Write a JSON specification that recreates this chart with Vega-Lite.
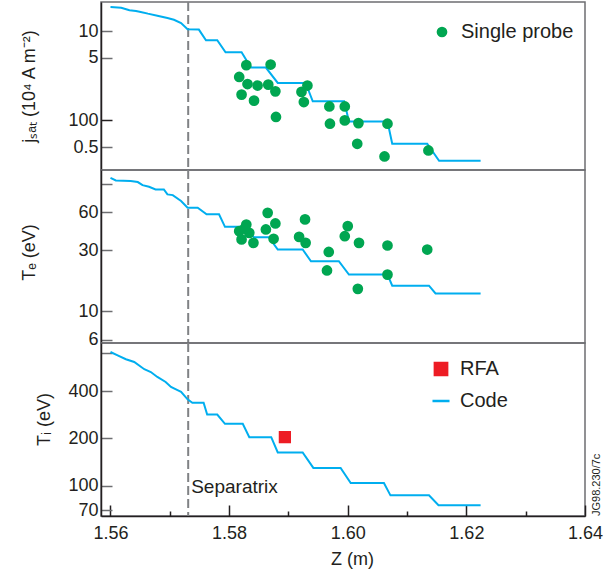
{
  "$schema": "https://vega.github.io/schema/vega-lite/v6.json",
  "padding": {"left": 19, "top": 0, "right": 5, "bottom": 5},
  "bounds": "flush",
  "spacing": 0,
  "background": "white",
  "config": {
    "font": "Liberation Sans",
    "view": {"stroke": "#6d6e71", "strokeWidth": 1.5},
    "axis": {"grid": false, "domainColor": "#231f20", "domainWidth": 1.5, "tickColor": "#6d6e71", "tickWidth": 1.5, "labelColor": "#231f20", "titleColor": "#231f20", "labelFont": "Liberation Sans", "titleFont": "Liberation Sans", "labelFontSize": 18, "titleFontSize": 18, "titleFontWeight": "normal", "labelOverlap": false, "labelFlush": false},
    "legend": {"labelFont": "Liberation Sans", "labelFontSize": 20, "labelColor": "#231f20", "padding": 0, "title": null}
  },
  "resolve": {"scale": {"color": "independent", "y": "independent"}, "legend": {"color": "independent"}},
  "datasets": {
    "sep": [{"z": 1.5731}],
    "jsat_code": [
      {"z": 1.5600, "v": 18.6}, {"z": 1.5618, "v": 18.3}, {"z": 1.5632, "v": 17.1}, {"z": 1.5643, "v": 16.8},
      {"z": 1.5651, "v": 16.4}, {"z": 1.5663, "v": 15.7}, {"z": 1.5679, "v": 14.9}, {"z": 1.5696, "v": 14.0},
      {"z": 1.5707, "v": 13.4}, {"z": 1.5719, "v": 12.3}, {"z": 1.5730, "v": 10.5}, {"z": 1.5749, "v": 10.4},
      {"z": 1.5761, "v": 7.9}, {"z": 1.5780, "v": 7.9}, {"z": 1.5794, "v": 5.8}, {"z": 1.5821, "v": 5.8},
      {"z": 1.5831, "v": 4.5}, {"z": 1.5837, "v": 3.9}, {"z": 1.5862, "v": 3.9}, {"z": 1.5882, "v": 2.62},
      {"z": 1.5929, "v": 2.62}, {"z": 1.5941, "v": 1.63}, {"z": 1.5994, "v": 1.63}, {"z": 1.6002, "v": 0.97},
      {"z": 1.6067, "v": 0.97}, {"z": 1.6075, "v": 0.545}, {"z": 1.6134, "v": 0.545}, {"z": 1.6154, "v": 0.351},
      {"z": 1.6224, "v": 0.351}
    ],
    "jsat_probe": [
      {"z": 1.5829, "v": 4.15, "s": "Single probe"}, {"z": 1.5870, "v": 4.22, "s": "Single probe"},
      {"z": 1.5817, "v": 3.06, "s": "Single probe"}, {"z": 1.5831, "v": 2.55, "s": "Single probe"},
      {"z": 1.5848, "v": 2.45, "s": "Single probe"}, {"z": 1.5866, "v": 2.51, "s": "Single probe"},
      {"z": 1.5878, "v": 2.11, "s": "Single probe"}, {"z": 1.5821, "v": 1.94, "s": "Single probe"},
      {"z": 1.5842, "v": 1.66, "s": "Single probe"}, {"z": 1.5879, "v": 1.09, "s": "Single probe"},
      {"z": 1.5932, "v": 2.45, "s": "Single probe"}, {"z": 1.5922, "v": 2.08, "s": "Single probe"},
      {"z": 1.5926, "v": 1.60, "s": "Single probe"}, {"z": 1.5969, "v": 1.43, "s": "Single probe"},
      {"z": 1.5995, "v": 1.43, "s": "Single probe"}, {"z": 1.5970, "v": 0.916, "s": "Single probe"},
      {"z": 1.5995, "v": 0.997, "s": "Single probe"}, {"z": 1.6018, "v": 0.930, "s": "Single probe"},
      {"z": 1.6067, "v": 0.916, "s": "Single probe"}, {"z": 1.6016, "v": 0.545, "s": "Single probe"},
      {"z": 1.6062, "v": 0.393, "s": "Single probe"}, {"z": 1.6136, "v": 0.459, "s": "Single probe"}
    ],
    "te_code": [
      {"z": 1.5600, "v": 111}, {"z": 1.5609, "v": 106}, {"z": 1.5634, "v": 105}, {"z": 1.5646, "v": 103},
      {"z": 1.5654, "v": 97.4}, {"z": 1.5665, "v": 94.6}, {"z": 1.5676, "v": 90.2}, {"z": 1.5690, "v": 90.2},
      {"z": 1.5696, "v": 82.4}, {"z": 1.5705, "v": 81.4}, {"z": 1.5719, "v": 73.1}, {"z": 1.5730, "v": 64.8},
      {"z": 1.5747, "v": 64.8}, {"z": 1.5762, "v": 57.5}, {"z": 1.5783, "v": 57.5}, {"z": 1.5793, "v": 45.9},
      {"z": 1.5823, "v": 45.9}, {"z": 1.5831, "v": 42.5}, {"z": 1.5842, "v": 38.1}, {"z": 1.5867, "v": 38.1},
      {"z": 1.5882, "v": 30.5}, {"z": 1.5924, "v": 30.5}, {"z": 1.5938, "v": 24.7}, {"z": 1.5985, "v": 24.7},
      {"z": 1.6002, "v": 19.4}, {"z": 1.6067, "v": 19.4}, {"z": 1.6075, "v": 15.9}, {"z": 1.6137, "v": 15.9},
      {"z": 1.6148, "v": 13.8}, {"z": 1.6224, "v": 13.8}
    ],
    "te_probe": [
      {"z": 1.5829, "v": 47.9}, {"z": 1.5817, "v": 42.5}, {"z": 1.5834, "v": 41.2}, {"z": 1.5821, "v": 36.6},
      {"z": 1.5841, "v": 34.4}, {"z": 1.5865, "v": 59.1}, {"z": 1.5878, "v": 48.8}, {"z": 1.5862, "v": 43.8},
      {"z": 1.5875, "v": 37.0}, {"z": 1.5928, "v": 52.5}, {"z": 1.5918, "v": 38.3}, {"z": 1.5929, "v": 34.4},
      {"z": 1.6000, "v": 46.5}, {"z": 1.5995, "v": 38.8}, {"z": 1.6019, "v": 34.4}, {"z": 1.5968, "v": 29.2},
      {"z": 1.5965, "v": 20.9}, {"z": 1.6017, "v": 15.0}, {"z": 1.6067, "v": 32.8}, {"z": 1.6067, "v": 19.4},
      {"z": 1.6134, "v": 30.5}, {"z": 1.5826, "v": 44.5}
    ],
    "ti_code": [
      {"z": 1.5600, "v": 711, "s": "Code"}, {"z": 1.5612, "v": 677, "s": "Code"}, {"z": 1.5626, "v": 639, "s": "Code"},
      {"z": 1.5640, "v": 614, "s": "Code"}, {"z": 1.5657, "v": 552, "s": "Code"}, {"z": 1.5668, "v": 530, "s": "Code"},
      {"z": 1.5679, "v": 493, "s": "Code"}, {"z": 1.5693, "v": 458, "s": "Code"}, {"z": 1.5702, "v": 426, "s": "Code"},
      {"z": 1.5713, "v": 406, "s": "Code"}, {"z": 1.5719, "v": 396, "s": "Code"}, {"z": 1.5730, "v": 355, "s": "Code"},
      {"z": 1.5738, "v": 338, "s": "Code"}, {"z": 1.5757, "v": 338, "s": "Code"}, {"z": 1.5763, "v": 284, "s": "Code"},
      {"z": 1.5780, "v": 284, "s": "Code"}, {"z": 1.5793, "v": 248, "s": "Code"}, {"z": 1.5823, "v": 248, "s": "Code"},
      {"z": 1.5834, "v": 204, "s": "Code"}, {"z": 1.5871, "v": 204, "s": "Code"}, {"z": 1.5882, "v": 163, "s": "Code"},
      {"z": 1.5924, "v": 163, "s": "Code"}, {"z": 1.5942, "v": 130, "s": "Code"}, {"z": 1.5988, "v": 130, "s": "Code"},
      {"z": 1.6005, "v": 104, "s": "Code"}, {"z": 1.6061, "v": 104, "s": "Code"}, {"z": 1.6072, "v": 86.9, "s": "Code"},
      {"z": 1.6137, "v": 86.9, "s": "Code"}, {"z": 1.6153, "v": 75.1, "s": "Code"}, {"z": 1.6224, "v": 75.1, "s": "Code"}
    ],
    "ti_rfa": [{"z": 1.5894, "v": 204, "s": "RFA"}],
    "sep_label": [{"z": 1.5731, "v": 98, "label": "Separatrix"}]
  },
  "vconcat": [
    {
      "width": 484,
      "height": 168,
      "encoding": {"x": {"field": "z", "type": "quantitative", "scale": {"domain": [1.5584, 1.64], "nice": false, "zero": false}, "axis": null}},
      "layer": [
        {"data": {"name": "sep"}, "mark": {"type": "rule", "color": "#808285", "strokeWidth": 2, "strokeDash": [9, 4]}, "encoding": {}},
        {"data": {"name": "jsat_code"}, "mark": {"type": "line", "color": "#00aeef", "strokeWidth": 2},
         "encoding": {"y": {"field": "v", "type": "quantitative", "scale": {"type": "log", "domain": [0.277, 21.2], "nice": false},
           "axis": {"title": "jₛₐₜ (10⁴ A m⁻²)", "values": [0.5, 1, 5, 10], "labelExpr": "datum.value == 1 ? '100' : format(datum.value, '~g')", "tickSize": -11, "labelPadding": 14, "titleX": -67, "titleY": 84, "titleBaseline": "alphabetic", "titleAngle": 270, "tickColor": {"condition": {"test": "datum.value == 1", "value": "#231f20"}, "value": "#6d6e71"}}}}},
        {"data": {"name": "jsat_probe"}, "mark": {"type": "point", "filled": true, "size": 115, "opacity": 1},
         "encoding": {"y": {"field": "v", "type": "quantitative", "scale": {"type": "log", "domain": [0.277, 21.2], "nice": false},
           "axis": {"title": "jₛₐₜ (10⁴ A m⁻²)", "values": [0.5, 1, 5, 10], "labelExpr": "datum.value == 1 ? '100' : format(datum.value, '~g')", "tickSize": -11, "labelPadding": 14, "titleX": -67, "titleY": 84, "titleBaseline": "alphabetic", "titleAngle": 270, "tickColor": {"condition": {"test": "datum.value == 1", "value": "#231f20"}, "value": "#6d6e71"}}},
           "color": {"field": "s", "type": "nominal", "scale": {"domain": ["Single probe"], "range": ["#00a651"]},
             "legend": {"orient": "none", "legendX": 331, "legendY": 20, "symbolType": "circle", "symbolSize": 115, "labelOffset": 9}}}}
      ]
    },
    {
      "width": 484,
      "height": 173,
      "encoding": {"x": {"field": "z", "type": "quantitative", "scale": {"domain": [1.5584, 1.64], "nice": false, "zero": false}, "axis": null}},
      "layer": [
        {"data": {"name": "sep"}, "mark": {"type": "rule", "color": "#808285", "strokeWidth": 2, "strokeDash": [9, 4]}, "encoding": {}},
        {"data": {"name": "te_code"}, "mark": {"type": "line", "color": "#00aeef", "strokeWidth": 2},
         "encoding": {"y": {"field": "v", "type": "quantitative", "scale": {"type": "log", "domain": [5.65, 128], "nice": false},
           "axis": {"title": "Tₑ (eV)", "values": [6, 10, 30, 60, 100], "labelExpr": "datum.value == 100 ? '' : format(datum.value, '~g')", "tickSize": -11, "labelPadding": 14, "titleX": -67, "titleY": 82, "titleBaseline": "alphabetic", "titleAngle": 270}}}},
        {"data": {"name": "te_probe"}, "mark": {"type": "point", "filled": true, "size": 115, "opacity": 1, "color": "#00a651"},
         "encoding": {"y": {"field": "v", "type": "quantitative", "scale": {"type": "log", "domain": [5.65, 128], "nice": false},
           "axis": {"title": "Tₑ (eV)", "values": [6, 10, 30, 60, 100], "labelExpr": "datum.value == 100 ? '' : format(datum.value, '~g')", "tickSize": -11, "labelPadding": 14, "titleX": -67, "titleY": 82, "titleBaseline": "alphabetic", "titleAngle": 270}}}}
      ]
    },
    {
      "width": 484,
      "height": 173,
      "title": {"text": "JG98.230/7c", "orient": "right", "anchor": "end", "frame": "group", "angle": 270, "align": "left", "baseline": "top", "fontSize": 11, "fontWeight": "normal", "color": "#231f20", "offset": -23, "font": "Liberation Sans"},
      "resolve": {"axis": {"x": "independent"}},
      "layer": [
        {"data": {"name": "sep"}, "mark": {"type": "rule", "color": "#808285", "strokeWidth": 2, "strokeDash": [9, 4]},
         "encoding": {"x": {"field": "z", "type": "quantitative", "scale": {"domain": [1.5584, 1.64], "nice": false, "zero": false},
           "axis": {"orient": "bottom", "values": [1.57, 1.59, 1.61, 1.63], "tickSize": -5, "labels": false, "domain": false, "title": null, "tickColor": "#231f20"}}}},
        {"data": {"name": "sep_label"}, "mark": {"type": "text", "align": "left", "baseline": "middle", "dx": 3, "fontSize": 19, "color": "#231f20"},
         "encoding": {"x": {"field": "z", "type": "quantitative", "scale": {"domain": [1.5584, 1.64], "nice": false, "zero": false}, "axis": null},
           "text": {"field": "label"}, "y": {"field": "v", "type": "quantitative", "scale": {"type": "log", "domain": [64.2, 811], "nice": false},
           "axis": {"title": "Tᵢ (eV)", "values": [70, 100, 200, 400, 700], "labelExpr": "datum.value == 700 ? '' : format(datum.value, '~g')", "tickSize": -11, "labelPadding": 14, "titleX": -52, "titleY": 76, "titleBaseline": "alphabetic", "titleAngle": 270}}}},
        {"data": {"name": "ti_code"}, "mark": {"type": "line", "strokeWidth": 2},
         "encoding": {"x": {"field": "z", "type": "quantitative", "scale": {"domain": [1.5584, 1.64], "nice": false, "zero": false},
           "axis": {"orient": "bottom", "values": [1.56, 1.58, 1.6, 1.62, 1.64], "format": ".2f", "tickSize": -11, "labelPadding": 19, "title": "Z (m)", "titlePadding": 8, "titleX": 251, "tickColor": "#231f20"}},
           "y": {"field": "v", "type": "quantitative", "scale": {"type": "log", "domain": [64.2, 811], "nice": false},
           "axis": {"title": "Tᵢ (eV)", "values": [70, 100, 200, 400, 700], "labelExpr": "datum.value == 700 ? '' : format(datum.value, '~g')", "tickSize": -11, "labelPadding": 14, "titleX": -52, "titleY": 76, "titleBaseline": "alphabetic", "titleAngle": 270}},
           "color": {"field": "s", "type": "nominal", "scale": {"domain": ["RFA", "Code"], "range": ["#ed1c24", "#00aeef"]},
             "legend": {"orient": "none", "legendX": 330, "legendY": 16, "symbolSize": 150, "labelOffset": 9, "rowPadding": 10,
               "encode": {"symbols": {"update": {"shape": {"signal": "datum.value === 'RFA' ? 'square' : 'stroke'"}, "size": {"signal": "datum.value === 'RFA' ? 150 : 290"}, "fill": {"signal": "datum.value === 'RFA' ? '#ed1c24' : 'transparent'"}, "stroke": {"signal": "datum.value === 'Code' ? '#00aeef' : 'transparent'"}, "strokeWidth": {"value": 2.5}, "opacity": {"value": 1}}}}}}}},
        {"data": {"name": "ti_rfa"}, "mark": {"type": "square", "size": 150, "opacity": 1},
         "encoding": {"x": {"field": "z", "type": "quantitative", "scale": {"domain": [1.5584, 1.64], "nice": false, "zero": false}, "axis": null},
           "y": {"field": "v", "type": "quantitative", "scale": {"type": "log", "domain": [64.2, 811], "nice": false},
           "axis": {"title": "Tᵢ (eV)", "values": [70, 100, 200, 400, 700], "labelExpr": "datum.value == 700 ? '' : format(datum.value, '~g')", "tickSize": -11, "labelPadding": 14, "titleX": -52, "titleY": 76, "titleBaseline": "alphabetic", "titleAngle": 270}},
           "color": {"field": "s", "type": "nominal", "scale": {"domain": ["RFA", "Code"], "range": ["#ed1c24", "#00aeef"]}}}}
      ]
    }
  ]
}
